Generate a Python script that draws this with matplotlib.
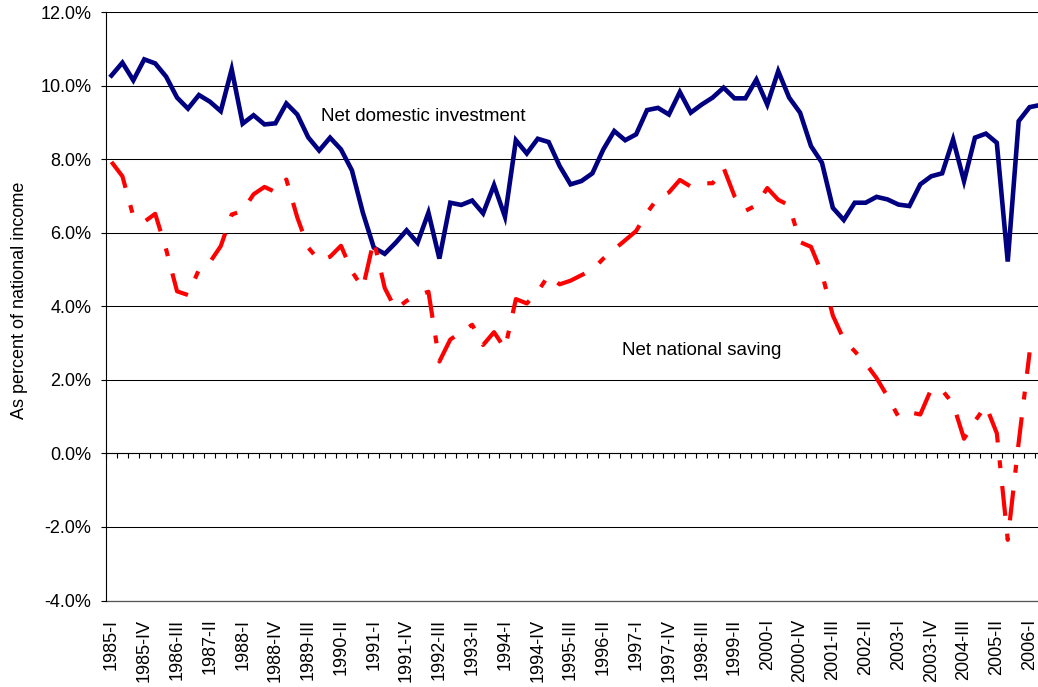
import numpy as np
import matplotlib
matplotlib.use("Agg")
import matplotlib.pyplot as plt
from matplotlib.ticker import FuncFormatter

plt.rcParams['font.family'] = ['Liberation Sans', 'DejaVu Sans']

# quarterly values, 1985-I .. 2006-II (percent of national income)
investment = [
    10.28, 10.63, 10.15, 10.72, 10.61, 10.25, 9.68, 9.38, 9.75, 9.57,
    9.31, 10.45, 8.97, 9.20, 8.95, 8.98, 9.52, 9.22, 8.60, 8.24,
    8.59, 8.27, 7.70, 6.55, 5.60, 5.43, 5.73, 6.07, 5.73, 6.55,
    5.30, 6.82, 6.76, 6.88, 6.53, 7.30, 6.44, 8.52, 8.16, 8.56,
    8.47, 7.82, 7.32, 7.41, 7.62, 8.27, 8.77, 8.52, 8.68, 9.34,
    9.40, 9.22, 9.83, 9.27, 9.49, 9.68, 9.95, 9.66, 9.66, 10.17,
    9.49, 10.40, 9.68, 9.27, 8.36, 7.91, 6.68, 6.35, 6.82, 6.82,
    6.98, 6.91, 6.77, 6.73, 7.32, 7.54, 7.62, 8.54, 7.41, 8.59,
    8.70, 8.45, 5.22, 9.04, 9.42, 9.48,
]
saving = [
    7.93, 7.54, 6.45, 6.30, 6.52, 5.55, 4.41, 4.31, 5.00, 5.20,
    5.64, 6.50, 6.60, 7.05, 7.25, 7.11, 7.45, 6.42, 5.60, 5.25,
    5.35, 5.65, 4.95, 4.50, 5.80, 4.50, 3.92, 4.15, 4.30, 4.40,
    2.50, 3.10, 3.30, 3.50, 2.95, 3.30, 2.85, 4.20, 4.08, 4.40,
    4.85, 4.60, 4.70, 4.85, 5.00, 5.30, 5.55, 5.80, 6.05, 6.55,
    6.95, 7.10, 7.44, 7.26, 7.35, 7.35, 7.77, 7.00, 6.60, 6.75,
    7.22, 6.90, 6.75, 5.75, 5.62, 4.90, 3.75, 3.10, 2.78, 2.45,
    2.05, 1.55, 1.00, 1.12, 1.06, 1.75, 1.72, 1.35, 0.40, 0.88,
    1.30, 0.55, -2.35, 0.30, 2.75, np.nan,
]
tick_labels = [
    "1985-I", "1985-IV", "1986-III", "1987-II", "1988-I", "1988-IV",
    "1989-III", "1990-II", "1991-I", "1991-IV", "1992-III", "1993-II",
    "1994-I", "1994-IV", "1995-III", "1996-II", "1997-I", "1997-IV",
    "1998-III", "1999-II", "2000-I", "2000-IV", "2001-III", "2002-II",
    "2003-I", "2003-IV", "2004-III", "2005-II", "2006-I",
]

x = np.arange(len(investment))

fig = plt.figure(figsize=(10.38, 6.87), dpi=100)
# plot area runs a little past the right edge of the picture
ax = fig.add_axes([106 / 1038, 86.5 / 687, 940 / 1038, 588.2 / 687])

ax.plot(x, investment, color='#000080', lw=3.3, solid_joinstyle='miter', zorder=3)
ax.plot(x, saving, color='#FF0000', lw=3.0, linestyle=(0, (7.2, 4.3, 1.9, 4.3)), zorder=3)

ax.set_xlim(-0.5, len(investment) - 0.5)
ax.set_ylim(-4, 12)

ax.set_yticks(np.arange(-4, 13, 2))
ax.yaxis.set_major_formatter(FuncFormatter(lambda v, p: f"{v:.1f}%"))
ax.tick_params(axis='y', direction='out', length=3.6, width=0.8, pad=7, labelsize=13)
ax.grid(True, axis='y', color='black', lw=0.75)
ax.set_axisbelow(True)

for s in ['top', 'right']:
    ax.spines[s].set_visible(False)
ax.spines['left'].set_linewidth(0.8)
ax.spines['bottom'].set_position(('data', 0))
ax.spines['bottom'].set_linewidth(0.8)

# category boundary tick marks on the zero line
ax.set_xticks(np.arange(len(investment) + 1) - 0.5)
ax.tick_params(axis='x', direction='out', length=3.6, width=0.8, labelbottom=False)

# category labels along the bottom of the plot area
sec = ax.secondary_xaxis(0)
sec.set_xticks(x[::3], tick_labels, rotation=90)
sec.tick_params(length=0, pad=13, labelsize=13)
sec.spines['bottom'].set_color('#555555')
sec.spines['bottom'].set_linewidth(0.9)

ax.set_ylabel("As percent of national income", fontsize=13)
ax.yaxis.set_label_coords(-0.083, 0.511)

ax.text(19.2, 9.16, "Net domestic investment", fontsize=13.5, va='center')
ax.text(46.7, 2.81, "Net national saving", fontsize=13.5, va='center')

fig.savefig("out.png", dpi=100)
plt.close(fig)
